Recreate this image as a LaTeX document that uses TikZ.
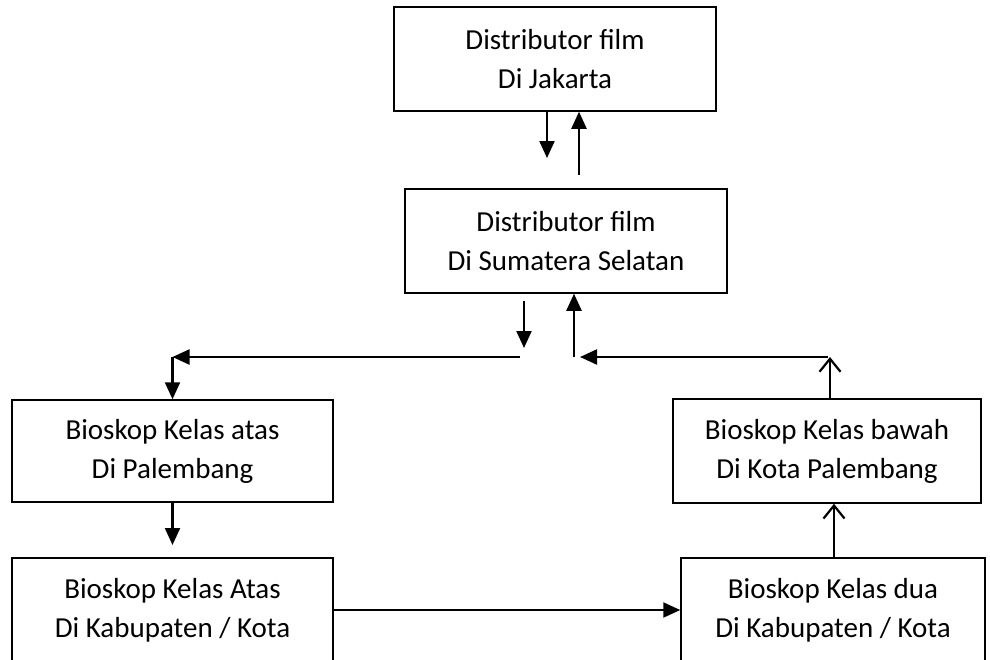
\documentclass[tikz,border=0pt]{standalone}
\usepackage{fontspec}
\setmainfont{Carlito}
\usepackage{tikz}
\usetikzlibrary{
    arrows.meta,
    positioning,
    calc
}

\begin{document}
\begin{tikzpicture}[x=1pt,y=-1pt,
    box/.style={draw,line width=1.5pt,rectangle,align=center,inner sep=0pt,
        minimum width=321pt,minimum height=104pt,
        font=\fontsize{29}{39}\selectfont},
    arr/.style={line width=2.2pt,-{Triangle[length=17pt,width=15pt]}},
    oarr/.style={line width=2.2pt,-{Straight Barb[length=13pt,width=21pt,line width=2.2pt]}}]
    \useasboundingbox (0,0) rectangle (990,659);

    % Distributor
    \node[box,minimum width=322pt] (jkt) at (555,59) {Distributor film\\Di Jakarta};
    \node[box,minimum width=322pt] (sumsel) at (566,241) {Distributor film\\Di Sumatera Selatan};

    % Bioskop
    \node[box,minimum height=102pt] (atasPlg) at (172.5,451) {Bioskop Kelas atas\\Di Palembang};
    \node[box,minimum width=308pt] (bawahPlg) at (827,451) {Bioskop Kelas bawah\\Di Kota Palembang};
    \node[box] (atasKab) at (172.5,610) {Bioskop Kelas Atas\\Di Kabupaten / Kota};
    \node[box,minimum width=304pt] (duaKab) at (833,610) {Bioskop Kelas dua\\Di Kabupaten / Kota};

    % free ends
    \coordinate (d1) at (547,158);
    \coordinate (u1) at (579,175);
    \coordinate (d2a) at (524,301);
    \coordinate (d2b) at (524,348);
    \coordinate (kiri1) at (520,357);
    \coordinate (kiri2) at (172.5,357);
    \coordinate (kanan1) at (830,357);
    \coordinate (kanan2) at (828,357);
    \coordinate (tengah) at (580,357);
    \coordinate (naik) at (574,357);
    \coordinate (d3) at (172.5,545);
    \coordinate (u4) at (834,558);

    % Jakarta <-> Sumatera Selatan
    \draw[arr] (jkt.south -| d1) -- (d1);
    \draw[arr] (u1) -- (u1 |- jkt.south);

    % Sumatera Selatan -> kelas atas
    \draw[arr] (d2a) -- (d2b);
    \draw[arr] (kiri1) -- (kiri2);
    \draw[arr] (kiri2) -- (atasPlg.north);
    \draw[arr] (atasPlg.south) -- (d3);
    \draw[arr] (atasKab.east) -- (atasKab.east -| duaKab.west);

    % kelas bawah -> Sumatera Selatan
    \draw[oarr] (u4) -- (u4 |- bawahPlg.south);
    \draw[oarr] (bawahPlg.north -| kanan1) -- (kanan1);
    \draw[arr] (kanan2) -- (tengah);
    \draw[arr] (naik) -- (naik |- sumsel.south);
\end{tikzpicture}
\end{document}
